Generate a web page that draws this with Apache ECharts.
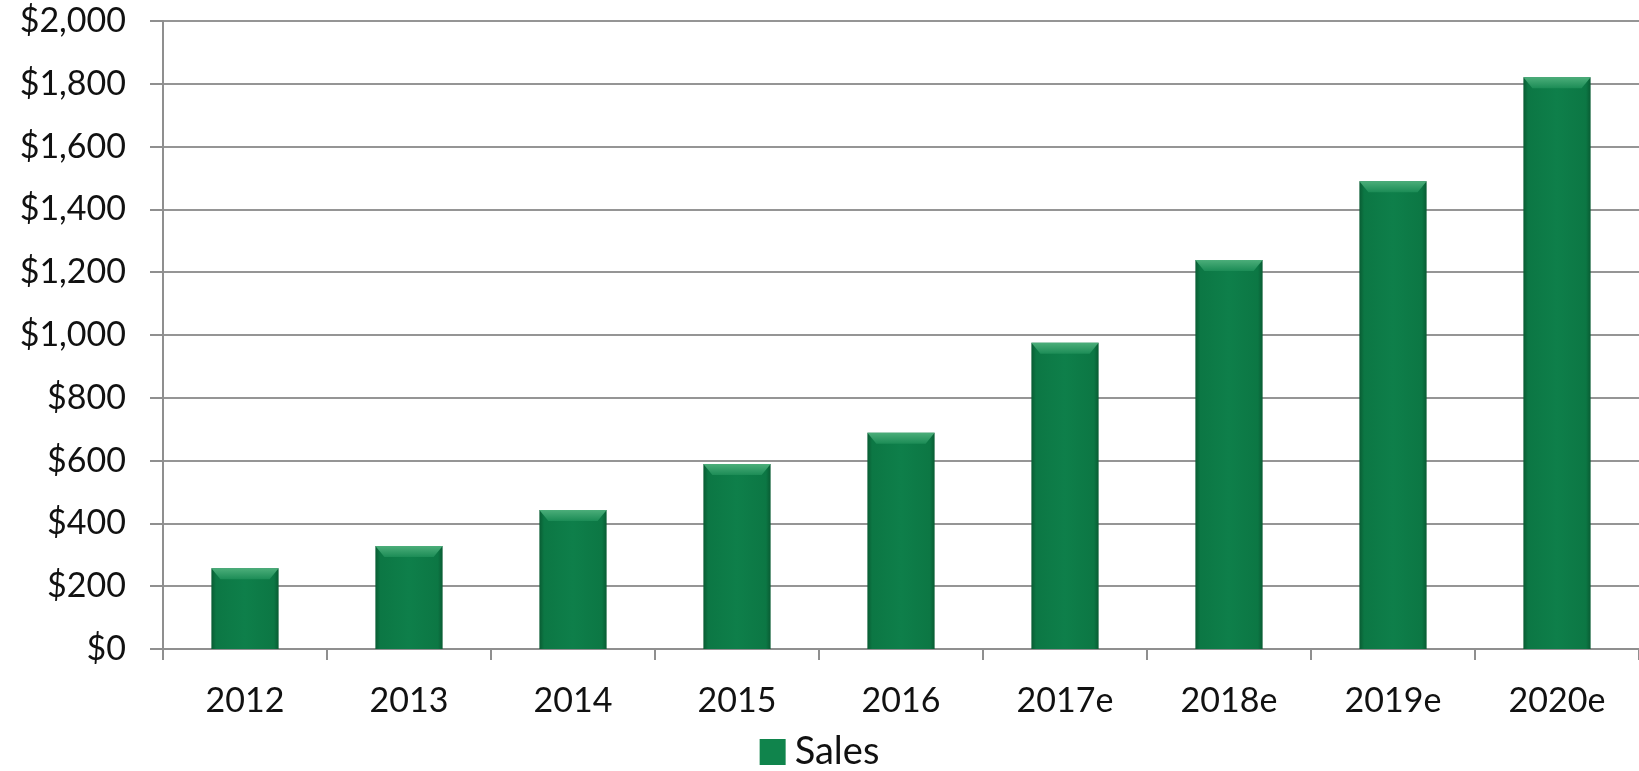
<!DOCTYPE html>
<html>
<head>
<meta charset="utf-8">
<script src="https://cdn.jsdelivr.net/npm/echarts@6/dist/echarts.min.js"></script>
<style>
html,body{margin:0;padding:0;background:#fff;}
#chart{width:1639px;height:771px;}
</style>
</head>
<body>
<div id="chart"></div>
<script>
const categories = ['2012','2013','2014','2015','2016','2017e','2018e','2019e','2020e'];
const sales = [257, 328, 443, 589, 689, 975, 1239, 1490, 1821];
const seriesName = 'Sales';
const yMin = 0, yMax = 2000, yStep = 200;

const FONT = 'Lato';
function money(v){
  return '$' + String(v).replace(/\B(?=(\d{3})+(?!\d))/g, ',');
}

const chart = echarts.init(document.getElementById('chart'));

function renderBar(params, api){
  const idx = api.value(0);
  const val = api.value(1);
  const top = api.coord([idx, val]);
  const base = api.coord([idx, 0]);
  const band = api.size([1, 0])[0];
  const w = band * 0.41;
  const x = top[0] - w / 2;
  const y = top[1];
  const h = base[1] - top[1];
  const bev = Math.min(11, h);
  const inset = 9;
  return {
    type: 'group',
    children: [
      {
        type: 'rect',
        shape: { x: x, y: y, width: w, height: h },
        style: {
          fill: new echarts.graphic.LinearGradient(0, 0, 1, 0, [
            { offset: 0, color: '#095c33' },
            { offset: 0.07, color: '#0c7744' },
            { offset: 0.5, color: '#0e7f4a' },
            { offset: 0.93, color: '#0c7744' },
            { offset: 1, color: '#095c33' }
          ])
        }
      },
      {
        type: 'polygon',
        shape: { points: [[x, y], [x + w, y], [x + w - inset, y + bev], [x + inset, y + bev]] },
        style: {
          fill: new echarts.graphic.LinearGradient(0, 0, 0, 1, [
            { offset: 0, color: '#4cae7a' },
            { offset: 1, color: '#1c8c56' }
          ])
        }
      }
    ]
  };
}

chart.setOption({
  animation: false,
  backgroundColor: '#ffffff',
  grid: { left: 163, right: -2, top: 21, bottom: 122, containLabel: false },
  legend: {
    show: true,
    bottom: -5,
    left: 'center',
    itemWidth: 26,
    itemHeight: 26,
    data: [{ name: seriesName, icon: 'rect', itemStyle: { color: '#10844c' } }],
    textStyle: { fontFamily: FONT, fontSize: 38, color: '#111', padding: [0, 0, 0, 4] }
  },
  xAxis: {
    type: 'category',
    data: categories,
    axisLine: { show: true, lineStyle: { color: '#8f8f8f', width: 2 } },
    axisTick: { show: true, length: 11, lineStyle: { color: '#8f8f8f', width: 2 } },
    axisLabel: { fontFamily: FONT, fontSize: 34, color: '#111', margin: 35 },
    splitLine: { show: false }
  },
  yAxis: {
    type: 'value',
    min: yMin, max: yMax, interval: yStep,
    axisLine: { show: true, lineStyle: { color: '#8f8f8f', width: 2 } },
    axisTick: { show: true, inside: false, length: 13, lineStyle: { color: '#8f8f8f', width: 2 } },
    axisLabel: { fontFamily: FONT, fontSize: 34, color: '#111', margin: 37, formatter: money },
    splitLine: { show: true, lineStyle: { color: '#959595', width: 2 } }
  },
  series: [{
    name: seriesName,
    type: 'custom',
    renderItem: renderBar,
    encode: { x: 0, y: 1 },
    data: sales.map((v, i) => [i, v]),
    itemStyle: { color: '#10844c' }
  }]
});
</script>
</body>
</html>
